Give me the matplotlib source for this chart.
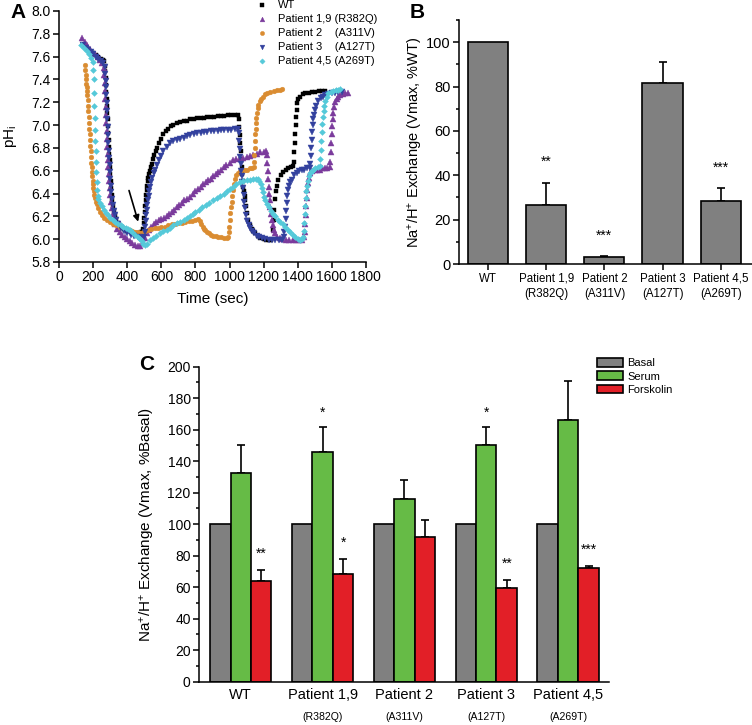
import matplotlib
matplotlib.use("Agg")
import matplotlib.pyplot as plt
import numpy as np
from matplotlib.ticker import MultipleLocator, FormatStrFormatter

plt.rcParams['font.family'] = ['Liberation Sans', 'DejaVu Sans']
plt.rcParams['mathtext.fontset'] = 'custom'
plt.rcParams['mathtext.rm'] = 'Liberation Sans'
plt.rcParams['mathtext.it'] = 'Liberation Sans:italic'
plt.rcParams['mathtext.default'] = 'regular'
plt.rcParams['axes.linewidth'] = 1.1

# ---------------- Panel A data: (time in s, pHi) readings ----------------
wt_curve = [(140,7.70),(155,7.68),(170,7.66),(185,7.64),(200,7.63),(215,7.61),(230,7.60),(245,7.58),(258,7.57),(265,7.56),
            (268,7.52),(270,7.47),(272,7.41),(274,7.35),(276,7.29),(278,7.23),(280,7.17),(282,7.11),(284,7.05),(286,6.99),
            (288,6.93),(290,6.87),(292,6.81),(294,6.75),(296,6.69),(298,6.63),(300,6.57),(302,6.51),(305,6.45),(308,6.39),
            (311,6.34),(315,6.29),(320,6.25),(326,6.21),(333,6.18),(345,6.14),(360,6.11),(380,6.09),(400,6.07),(420,6.06),
            (440,6.05),(460,6.05),(478,6.06),(490,6.07),(494,6.09),(497,6.14),(500,6.19),(503,6.24),(506,6.29),(509,6.34),
            (512,6.39),(515,6.43),(518,6.47),(521,6.51),(524,6.54),(527,6.57),(531,6.60),(536,6.63),(543,6.66),(550,6.70),
            (558,6.74),(566,6.77),(575,6.80),(585,6.84),(597,6.88),(611,6.92),(625,6.95),(640,6.97),(655,6.99),(670,7.00),
            (690,7.02),(710,7.03),(730,7.04),(750,7.04),(770,7.05),(790,7.05),(810,7.06),(830,7.06),(850,7.06),(870,7.07),
            (890,7.07),(910,7.07),(930,7.08),(950,7.08),(970,7.08),(990,7.09),(1010,7.09),(1030,7.09),(1050,7.09),
            (1054,7.05),(1057,6.98),(1060,6.91),(1063,6.84),(1066,6.77),(1069,6.70),(1072,6.63),(1075,6.57),(1078,6.51),
            (1081,6.46),(1084,6.42),(1088,6.38),(1092,6.34),(1097,6.29),(1103,6.23),(1111,6.17),(1120,6.12),(1130,6.09),
            (1140,6.07),(1150,6.05),(1165,6.03),(1180,6.01),(1200,6.00),(1215,5.99),(1230,5.99),(1245,5.99),(1257,6.08),
            (1260,6.17),(1263,6.26),(1267,6.35),(1272,6.42),(1278,6.47),(1287,6.52),(1300,6.56),(1316,6.59),(1330,6.61),
            (1345,6.62),(1360,6.63),(1372,6.64),(1376,6.68),(1379,6.76),(1382,6.84),(1385,6.92),(1388,7.00),(1391,7.07),
            (1394,7.13),(1398,7.19),(1405,7.23),(1415,7.25),(1430,7.27),(1445,7.28),(1465,7.28),(1485,7.29),(1505,7.29),
            (1525,7.30),(1545,7.30),(1561,7.30)]

p19_curve = [(135,7.76),(150,7.73),(165,7.70),(180,7.67),(195,7.64),(210,7.62),(225,7.60),(240,7.57),(252,7.54),(262,7.50),
             (265,7.44),(267,7.37),(269,7.30),(271,7.23),(273,7.16),(275,7.09),(277,7.02),(279,6.95),(281,6.88),(283,6.81),
             (285,6.75),(287,6.69),(289,6.63),(291,6.57),(294,6.51),(297,6.45),(300,6.39),(304,6.33),(308,6.27),(313,6.22),
             (320,6.17),(328,6.13),(340,6.09),(355,6.06),(370,6.04),(385,6.02),(400,6.00),(415,5.98),(430,5.97),(445,5.95),
             (460,5.94),(475,5.94),(490,5.97),(505,6.01),(513,6.05),(525,6.08),(540,6.11),(555,6.13),(570,6.15),(585,6.17),
             (600,6.18),(615,6.19),(631,6.20),(645,6.22),(660,6.24),(675,6.26),(690,6.28),(705,6.30),(720,6.32),(735,6.34),
             (750,6.35),(768,6.37),(785,6.40),(800,6.42),(815,6.44),(830,6.46),(845,6.48),(860,6.50),(875,6.52),(890,6.53),
             (905,6.55),(920,6.57),(935,6.59),(950,6.61),(965,6.63),(980,6.65),(1003,6.67),(1020,6.69),(1040,6.70),(1060,6.71),
             (1080,6.71),(1100,6.72),(1120,6.73),(1140,6.74),(1160,6.75),(1180,6.76),(1200,6.76),(1212,6.77),(1218,6.74),
             (1221,6.67),(1224,6.60),(1227,6.53),(1230,6.46),(1233,6.40),(1236,6.34),(1240,6.28),(1244,6.22),(1248,6.17),
             (1253,6.12),(1259,6.08),(1267,6.05),(1280,6.02),(1295,6.01),(1310,6.00),(1330,5.99),(1350,5.99),(1370,5.99),
             (1390,5.99),(1410,5.99),(1425,5.99),(1438,6.02),(1443,6.06),(1446,6.13),(1449,6.21),(1452,6.29),(1455,6.36),
             (1458,6.43),(1462,6.49),(1467,6.54),(1473,6.58),(1485,6.60),(1500,6.61),(1515,6.61),(1530,6.61),(1545,6.62),
             (1560,6.62),(1575,6.62),(1588,6.63),(1591,6.68),(1594,6.76),(1597,6.84),(1600,6.92),(1603,6.99),(1606,7.05),
             (1610,7.11),(1615,7.16),(1622,7.20),(1630,7.23),(1639,7.25),(1650,7.26),(1665,7.27),(1680,7.28),(1698,7.28)]

p2_curve = [(150,7.53),(152,7.48),(154,7.44),(156,7.40),(158,7.36),(160,7.33),(162,7.30),(164,7.26),(166,7.22),(168,7.17),
            (170,7.12),(172,7.07),(174,7.02),(176,6.97),(178,6.92),(180,6.87),(182,6.82),(184,6.77),(186,6.72),(188,6.67),
            (190,6.63),(192,6.59),(194,6.55),(196,6.51),(198,6.48),(200,6.45),(203,6.42),(206,6.39),(210,6.36),(215,6.33),
            (220,6.31),(228,6.27),(238,6.24),(250,6.21),(265,6.19),(278,6.17),(295,6.15),(315,6.13),(335,6.12),(357,6.11),
            (380,6.10),(400,6.09),(415,6.08),(430,6.07),(445,6.06),(460,6.06),(474,6.05),(490,6.06),(505,6.07),(520,6.08),
            (540,6.09),(560,6.10),(580,6.10),(600,6.11),(620,6.11),(640,6.12),(660,6.13),(680,6.13),(700,6.14),(720,6.14),
            (740,6.15),(760,6.16),(780,6.16),(800,6.17),(817,6.18),(826,6.16),(834,6.13),(842,6.11),(849,6.09),(856,6.08),
            (866,6.06),(878,6.05),(892,6.04),(905,6.03),(920,6.03),(935,6.02),(950,6.02),(965,6.01),(983,6.01),(993,6.02),
            (996,6.06),(999,6.11),(1002,6.17),(1005,6.23),(1008,6.28),(1012,6.33),(1016,6.38),(1020,6.43),(1025,6.48),
            (1032,6.53),(1040,6.56),(1050,6.58),(1062,6.60),(1075,6.61),(1090,6.61),(1105,6.61),(1120,6.62),(1132,6.62),
            (1141,6.63),(1144,6.68),(1146,6.74),(1148,6.80),(1150,6.86),(1152,6.92),(1154,6.97),(1156,7.02),(1158,7.06),
            (1161,7.11),(1165,7.15),(1170,7.18),(1177,7.21),(1185,7.23),(1195,7.25),(1208,7.27),(1222,7.28),(1240,7.29),
            (1260,7.30),(1280,7.31),(1295,7.31),(1307,7.32)]

p3_curve = [(140,7.70),(155,7.68),(170,7.66),(185,7.64),(200,7.62),(215,7.60),(230,7.58),(245,7.56),(258,7.54),(268,7.51),
            (271,7.45),(273,7.39),(275,7.33),(277,7.26),(279,7.19),(281,7.12),(283,7.05),(285,6.98),(287,6.91),(289,6.84),
            (291,6.77),(293,6.71),(295,6.65),(297,6.59),(300,6.53),(303,6.47),(306,6.41),(310,6.35),(314,6.30),(319,6.25),
            (325,6.21),(333,6.17),(345,6.13),(360,6.10),(380,6.07),(400,6.05),(420,6.04),(440,6.03),(460,6.02),(480,6.01),
            (495,6.02),(503,6.06),(506,6.11),(509,6.16),(512,6.21),(515,6.26),(518,6.30),(521,6.34),(525,6.38),(529,6.42),
            (534,6.46),(540,6.50),(547,6.54),(555,6.58),(562,6.61),(572,6.65),(584,6.69),(597,6.73),(611,6.77),(631,6.81),
            (650,6.84),(670,6.86),(690,6.87),(709,6.88),(730,6.89),(750,6.90),(770,6.91),(790,6.92),(807,6.93),(830,6.93),
            (850,6.94),(870,6.94),(890,6.95),(910,6.95),(930,6.95),(950,6.96),(970,6.96),(990,6.96),(1010,6.96),(1030,6.97),
            (1050,6.97),(1054,6.93),(1057,6.86),(1060,6.79),(1063,6.72),(1066,6.66),(1069,6.60),(1072,6.55),(1075,6.50),
            (1079,6.45),(1083,6.39),(1087,6.33),(1091,6.27),(1097,6.21),(1104,6.16),(1112,6.12),(1120,6.10),(1132,6.07),
            (1145,6.05),(1160,6.03),(1175,6.02),(1190,6.01),(1210,6.00),(1230,5.99),(1250,5.99),(1270,5.99),(1290,5.99),
            (1307,5.99),(1318,6.02),(1322,6.06),(1326,6.11),(1329,6.18),(1332,6.25),(1335,6.32),(1339,6.38),(1343,6.43),
            (1350,6.47),(1358,6.50),(1365,6.52),(1380,6.56),(1395,6.58),(1410,6.60),(1424,6.61),(1440,6.61),(1455,6.62),
            (1470,6.62),(1474,6.66),(1477,6.73),(1480,6.80),(1483,6.87),(1486,6.94),(1489,7.00),(1492,7.05),(1496,7.09),
            (1502,7.13),(1510,7.17),(1522,7.21),(1535,7.24),(1550,7.25),(1561,7.26),(1580,7.27),(1600,7.28),(1620,7.28),
            (1640,7.29),(1659,7.29)]

p45_curve = [(130,7.70),(145,7.68),(160,7.65),(175,7.62),(188,7.59),(198,7.55),(200,7.48),(202,7.40),(204,7.28),(206,7.17),
             (208,7.06),(210,6.96),(212,6.86),(214,6.77),(216,6.68),(218,6.59),(220,6.50),(222,6.43),(225,6.38),(230,6.35),
             (239,6.32),(250,6.29),(262,6.26),(275,6.23),(288,6.21),(300,6.19),(315,6.17),(330,6.15),(345,6.13),(360,6.12),
             (375,6.11),(390,6.10),(405,6.09),(415,6.08),(430,6.06),(445,6.04),(460,6.02),(475,6.00),(485,5.98),(494,5.96),
             (503,5.95),(513,5.96),(530,5.99),(550,6.01),(570,6.03),(590,6.05),(611,6.07),(631,6.08),(650,6.10),(670,6.12),
             (690,6.14),(710,6.15),(730,6.17),(750,6.19),(768,6.20),(785,6.22),(800,6.24),(820,6.26),(840,6.28),(860,6.30),
             (880,6.32),(905,6.34),(925,6.36),(945,6.38),(965,6.40),(985,6.42),(1003,6.44),(1020,6.46),(1040,6.48),(1060,6.50),
             (1080,6.51),(1100,6.52),(1120,6.52),(1140,6.53),(1155,6.53),(1169,6.53),(1176,6.51),(1183,6.48),(1189,6.45),
             (1196,6.41),(1203,6.37),(1210,6.34),(1218,6.31),(1230,6.28),(1242,6.25),(1255,6.22),(1267,6.20),(1282,6.17),
             (1297,6.15),(1312,6.13),(1326,6.11),(1341,6.08),(1356,6.06),(1370,6.04),(1385,6.02),(1400,6.00),(1414,5.99),
             (1426,6.00),(1434,6.02),(1437,6.07),(1440,6.14),(1443,6.22),(1446,6.29),(1449,6.36),(1452,6.42),(1456,6.47),
             (1460,6.51),(1466,6.55),(1474,6.58),(1483,6.60),(1492,6.61),(1505,6.62),(1518,6.63),(1530,6.64),(1534,6.70),
             (1537,6.78),(1540,6.86),(1543,6.94),(1546,7.01),(1549,7.07),(1553,7.12),(1557,7.17),(1562,7.21),(1570,7.25),
             (1580,7.28),(1595,7.29),(1610,7.30),(1625,7.31),(1640,7.31),(1649,7.32)]

series_labels = ['WT', 'Patient 1,9 (R382Q)', 'Patient 2    (A311V)', 'Patient 3    (A127T)', 'Patient 4,5 (A269T)']
series_curves = [wt_curve, p19_curve, p2_curve, p3_curve, p45_curve]
series_markers = ['s', '^', 'o', 'v', 'D']
series_colors = ['#000000', '#7B3B9C', '#DA8C31', '#33419E', '#55C9D9']
series_ms = [3.2, 3.8, 3.4, 3.8, 3.0]

# ---------------- Panel B data ----------------
b_cats = ['WT', 'Patient 1,9', 'Patient 2', 'Patient 3', 'Patient 4,5']
b_subs = ['', '(R382Q)', '(A311V)', '(A127T)', '(A269T)']
b_vals = [100, 26.4, 3.0, 81.6, 28.5]
b_errs = [0, 10.3, 0.6, 9.4, 5.6]
b_stars = ['', '**', '***', '', '***']

# ---------------- Panel C data ----------------
c_cats = ['WT', 'Patient 1,9', 'Patient 2', 'Patient 3', 'Patient 4,5']
c_subs = ['', '(R382Q)', '(A311V)', '(A127T)', '(A269T)']
c_basal = [100, 100, 100, 100, 100]
c_serum = [132.4, 146.0, 116.2, 150.0, 166.2]
c_serum_err = [18.0, 15.5, 12.0, 11.5, 25.0]
c_forsk = [64.0, 68.4, 91.9, 59.7, 72.4]
c_forsk_err = [7.0, 9.8, 10.6, 5.0, 1.3]
c_serum_stars = ['', '*', '', '*', '']
c_forsk_stars = ['**', '*', '', '**', '***']

W, H = 752, 725
fig = plt.figure(figsize=(W / 100, H / 100), dpi=100)


def axpx(l, t, r, b):
    return fig.add_axes([l / W, 1 - b / H, (r - l) / W, (b - t) / H])


def style(ax):
    for s in ['top', 'right']:
        ax.spines[s].set_visible(False)


# ===================== Panel A =====================
axA = axpx(59.3, 11, 365.7, 262)
style(axA)
for curve, lab, m, c, ms in zip(series_curves, series_labels, series_markers, series_colors, series_ms):
    t = [p[0] for p in curve]
    ph = [p[1] for p in curve]
    axA.plot(t, ph, ls='none', marker=m, ms=ms, color=c, mec=c, mew=0.3, label=lab)
axA.set_xlim(0, 1800)
axA.set_ylim(5.8, 8.0)
axA.xaxis.set_major_locator(MultipleLocator(200))
axA.yaxis.set_major_locator(MultipleLocator(0.2))
axA.yaxis.set_major_formatter(FormatStrFormatter('%.1f'))
axA.tick_params(direction='out', length=4, width=1.1, labelsize=10, pad=2)
axA.set_xlabel('Time (sec)', fontsize=11)
axA.set_ylabel('pH$_i$', fontsize=11)
axA.xaxis.set_label_coords(0.5, -0.118)
axA.yaxis.set_label_coords(-0.13, 0.5)
axA.annotate('', xy=(468, 6.13), xytext=(405, 6.45),
             arrowprops=dict(arrowstyle='-|>', color='black', lw=1.2, mutation_scale=9))
axA.legend(loc='upper left', bbox_to_anchor=(256.7 / W, 1 - 0.5 / H), bbox_transform=fig.transFigure,
           frameon=False, fontsize=8, handlelength=1.0, handletextpad=0.95, labelspacing=0.36,
           borderpad=0, borderaxespad=0, numpoints=1, markerscale=0.9)
fig.text(10 / W, 1 - 13 / H, 'A', fontsize=15, fontweight='bold', va='center', ha='left')

# ===================== Panel B =====================
axB = axpx(459, 20, 751.5, 264)
style(axB)
xb = np.arange(len(b_cats))
axB.bar(xb, b_vals, width=0.69, color='#808080', edgecolor='black', linewidth=1.2, zorder=2)
eidx = [i for i, e in enumerate(b_errs) if e > 0]
axB.errorbar(xb[eidx], np.array(b_vals)[eidx], yerr=[np.zeros(len(eidx)), np.array(b_errs)[eidx]],
             fmt='none', ecolor='black', elinewidth=1.2, capsize=3, capthick=1.2, zorder=1)
for i, s in enumerate(b_stars):
    if s:
        axB.annotate(s, xy=(xb[i], b_vals[i] + b_errs[i] + 11), xytext=(0, -5.8), textcoords='offset points',
                     ha='center', va='baseline', fontsize=10)
axB.set_xlim(-0.5, 4.53)
axB.set_ylim(0, 110)
axB.yaxis.set_major_locator(MultipleLocator(20))
axB.yaxis.set_minor_locator(MultipleLocator(10))
axB.set_xticks(xb)
axB.set_xticklabels(b_cats, fontsize=8.3)
axB.tick_params(axis='y', which='major', direction='out', length=4, width=1.1, labelsize=10.5, pad=2)
axB.tick_params(axis='y', which='minor', direction='out', length=2.5, width=1.1)
axB.tick_params(axis='x', direction='out', length=4, width=1.1, pad=2.4)
for i, s in enumerate(b_subs):
    if s:
        axB.text(xb[i], -0.125, s, transform=axB.get_xaxis_transform(), ha='center', va='center', fontsize=8.3)
axB.set_ylabel('Na$^{+}$/H$^{+}$ Exchange (Vmax, %WT)', fontsize=10.5)
axB.yaxis.set_label_coords(-0.115, 0.5)
fig.text(417 / W, 1 - 12 / H, 'B', fontsize=15, fontweight='bold', va='center', ha='center')

# ===================== Panel C =====================
axC = axpx(199, 366.7, 609, 681.7)
style(axC)
xc = np.arange(len(c_cats))
bw = 0.25
b1 = axC.bar(xc - bw, c_basal, width=bw, color='#808080', edgecolor='black', linewidth=1.2, label='Basal', zorder=2)
b2 = axC.bar(xc, c_serum, width=bw, color='#66BB46', edgecolor='black', linewidth=1.2, label='Serum', zorder=2)
b3 = axC.bar(xc + bw, c_forsk, width=bw, color='#E21F27', edgecolor='black', linewidth=1.2, label='Forskolin', zorder=2)
axC.errorbar(xc, c_serum, yerr=[np.zeros(5), c_serum_err], fmt='none', ecolor='black', elinewidth=1.2,
             capsize=3, capthick=1.2, zorder=1)
axC.errorbar(xc + bw, c_forsk, yerr=[np.zeros(5), c_forsk_err], fmt='none', ecolor='black', elinewidth=1.2,
             capsize=3, capthick=1.2, zorder=1)
for i in range(5):
    if c_serum_stars[i]:
        axC.annotate(c_serum_stars[i], xy=(xc[i], c_serum[i] + c_serum_err[i] + 11.5), xytext=(0, -5.8),
                     textcoords='offset points', ha='center', va='baseline', fontsize=10)
    if c_forsk_stars[i]:
        axC.annotate(c_forsk_stars[i], xy=(xc[i] + bw, c_forsk[i] + c_forsk_err[i] + 12.5), xytext=(0, -5.8),
                     textcoords='offset points', ha='center', va='baseline', fontsize=10)
axC.set_xlim(-0.51, 4.50)
axC.set_ylim(0, 200)
axC.yaxis.set_major_locator(MultipleLocator(20))
axC.yaxis.set_minor_locator(MultipleLocator(10))
axC.set_xticks(xc)
axC.set_xticklabels(c_cats, fontsize=10.5)
axC.tick_params(axis='y', which='major', direction='out', length=4, width=1.1, labelsize=10, pad=2)
axC.tick_params(axis='y', which='minor', direction='out', length=2.5, width=1.1)
axC.tick_params(axis='x', length=0, pad=4.5)
for i, s in enumerate(c_subs):
    if s:
        axC.text(xc[i], -0.111, s, transform=axC.get_xaxis_transform(), ha='center', va='center', fontsize=7.6)
axC.set_ylabel('Na$^{+}$/H$^{+}$ Exchange (Vmax, %Basal)', fontsize=11)
axC.yaxis.set_label_coords(-0.102, 0.5)
axC.legend(handles=[b1, b2, b3], loc='upper left', bbox_to_anchor=(597 / W, 1 - 358 / H),
           bbox_transform=fig.transFigure, frameon=False, fontsize=8, handlelength=2.34, handleheight=0.8,
           handletextpad=0.36, labelspacing=0.3, borderpad=0, borderaxespad=0)
fig.text(147 / W, 1 - 365 / H, 'C', fontsize=15, fontweight='bold', va='center', ha='center')

fig.savefig('out.png', dpi=100)
